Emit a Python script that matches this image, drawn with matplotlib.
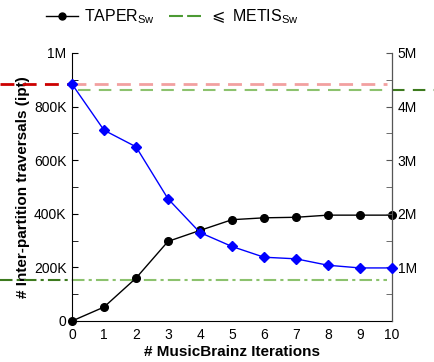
import matplotlib.pyplot as plt
from matplotlib.lines import Line2D
from matplotlib.transforms import blended_transform_factory

plt.rcParams['font.family'] = ['Liberation Sans', 'DejaVu Sans']

iterations = [0, 1, 2, 3, 4, 5, 6, 7, 8, 9, 10]
taper_ipt = [0, 52e3, 160e3, 297e3, 338e3, 378e3, 385e3, 387e3, 395e3, 395e3, 395e3]
taper_blue = [4.42e6, 3.56e6, 3.25e6, 2.28e6, 1.65e6, 1.39e6, 1.19e6, 1.16e6, 1.04e6, 0.99e6, 0.99e6]
metis_left = 153e3
red_left = 884e3
metis_right = 4.31e6

left_ticks = [0, 200e3, 400e3, 600e3, 800e3, 1e6]
left_labels = ['0', '200K', '400K', '600K', '800K', '1M']
right_ticks = [1e6, 2e6, 3e6, 4e6, 5e6]
right_labels = ['1M', '2M', '3M', '4M', '5M']

fig = plt.figure(figsize=(4.34, 3.62), dpi=100)
ax = fig.add_axes([72 / 434, 41 / 362, 320 / 434, 268 / 362])
ax2 = ax.twinx()

ax.plot(iterations, taper_ipt, color='black', marker='o', markersize=5.5, lw=1, zorder=5, clip_on=False)
ax2.plot(iterations, taper_blue, color='blue', marker='D', markersize=5, lw=1, zorder=5, clip_on=False)

ax.set_xlim(0, 10)
ax.set_ylim(0, 1e6)
ax2.set_ylim(0, 5e6)

# reference lines, dark part outside the axes, light part inside
tl = blended_transform_factory(ax.transAxes, ax.transData)
tr = blended_transform_factory(ax2.transAxes, ax2.transData)
ax.add_line(Line2D([-0.225, 0], [red_left, red_left], transform=tl, color='#cc0000',
                   ls=(0, (5, 3)), lw=2, clip_on=False))
ax.add_line(Line2D([0, 0.984], [red_left, red_left], transform=tl, color='#f2a0a0',
                   ls=(0, (5, 3)), lw=2, clip_on=False))
ax2.add_line(Line2D([0.02, 0.984], [metis_right, metis_right], transform=tr, color='#8cc26e',
                    ls=(0, (6, 4)), lw=1.5, clip_on=False))
ax2.add_line(Line2D([1.0, 1.13], [metis_right, metis_right], transform=tr, color='#3d7a1e',
                    ls=(0, (6, 4)), lw=1.5, clip_on=False))
ax.add_line(Line2D([-0.225, 0], [metis_left, metis_left], transform=tl, color='#3d7a1e',
                   ls=(0, (6, 2, 1.5, 2)), lw=1.5, clip_on=False))
ax.add_line(Line2D([0, 0.984], [metis_left, metis_left], transform=tl, color='#8cc26e',
                   ls=(0, (6, 2, 1.5, 2)), lw=1.5, clip_on=False))

ax.set_xticks(iterations)
ax.set_yticks(left_ticks)
ax.set_yticklabels(left_labels)
ax.set_yticks([100e3, 300e3, 500e3, 700e3, 900e3], minor=True)
ax2.set_yticks(right_ticks)
ax2.set_yticklabels(right_labels)
ax2.set_yticks([0.5e6, 1.5e6, 2.5e6, 3.5e6, 4.5e6], minor=True)

ax.tick_params(axis='y', which='both', direction='in', labelsize=10, length=4, pad=4)
ax.tick_params(axis='x', length=0, labelsize=10, pad=5)
ax2.tick_params(axis='y', which='both', direction='in', labelsize=10, length=4, pad=4, colors='#555555',
                labelcolor='black')

for a in (ax, ax2):
    a.spines['top'].set_visible(False)
ax2.spines['right'].set_color('#555555')
ax2.spines['left'].set_visible(False)
ax2.spines['bottom'].set_visible(False)

ax.set_ylabel('# Inter-partition traversals (ipt)', fontsize=11, fontweight='bold', labelpad=3)
ax.set_xlabel('# MusicBrainz Iterations', fontsize=11, fontweight='bold', labelpad=2)

handles = [Line2D([], [], color='black', marker='o', markersize=5, lw=1),
           Line2D([], [], color='#4c9a34', ls=(0, (6.7, 2)), lw=1.5)]
fig.legend(handles, [r'TAPER$_{\mathregular{Sw}}$', r'$\leqslant$ METIS$_{\mathregular{Sw}}$'],
           loc='center', bbox_to_anchor=(172 / 434, 1 - 17 / 362), ncol=2, frameon=False,
           fontsize=11.5, handlelength=2.0, columnspacing=0.9, handletextpad=0.4)

fig.savefig('out.png', dpi=100)
